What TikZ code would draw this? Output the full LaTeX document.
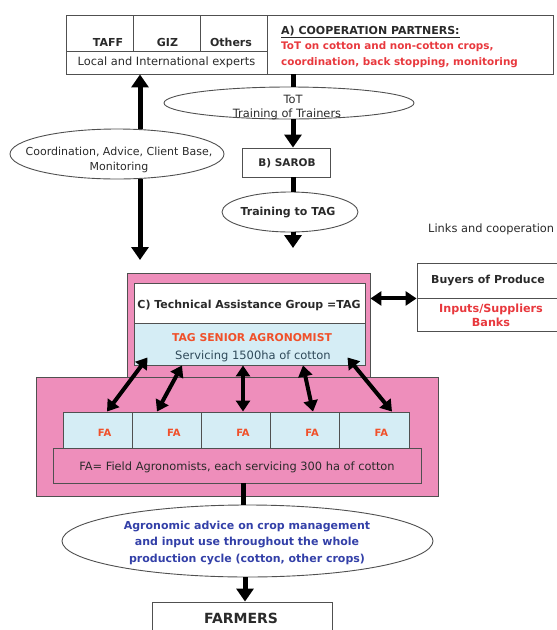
\documentclass[tikz,border=0pt]{standalone}
\usepackage{fontspec}
\setmainfont{DejaVu Sans}
\usetikzlibrary{arrows.meta,shapes.geometric,calc}
\definecolor{pinkf}{HTML}{EE8EBB}
\definecolor{bluef}{HTML}{D5EDF5}
\definecolor{redt}{HTML}{E8383D}
\definecolor{oranget}{HTML}{F0502A}
\definecolor{bluet}{HTML}{3340A8}
\definecolor{slatet}{HTML}{2F4A5A}
\definecolor{edge}{HTML}{505050}
\definecolor{txt}{HTML}{2A2A2A}
\begin{document}
\begin{tikzpicture}[x=1pt,y=-1pt,
  box/.style={draw=edge, line width=0.9pt, inner sep=0pt},
  ell/.style={ellipse, draw=edge, line width=0.9pt, inner sep=0pt},
  arr/.style={line width=5pt, -{Triangle[length=13pt,width=17pt]}},
  bar/.style={line width=5pt},
  dbl/.style={line width=4pt, {Triangle[length=11pt,width=14pt]}-{Triangle[length=11pt,width=14pt]}},
  lbl/.style={inner sep=0pt, text=txt, font=\fontsize{11.4}{13}\selectfont},
  blbl/.style={inner sep=0pt, text=txt, font=\fontsize{11}{13}\selectfont\bfseries},
]
\useasboundingbox (0,0) rectangle (557,630);

% ---------- top box ----------
\node[box, minimum width=67pt, minimum height=36pt] (taff) at (99.5,33) {};
\node[box, minimum width=67pt, minimum height=36pt] (giz) at (166.5,33) {};
\node[box, minimum width=67pt, minimum height=36pt] (others) at (233.5,33) {};
\node[box, minimum width=201pt, minimum height=23pt] (experts) at (166.5,62.5) {};
\node[box, minimum width=286pt, minimum height=59pt] (coop) at (410,44.5) {};
\node[blbl] at (108,42) {TAFF};
\node[blbl] at (167.5,42) {GIZ};
\node[blbl] at (231,42) {Others};
\node[lbl] at (166.5,62) {Local and International experts};
\node[blbl, anchor=west] at (281,32) {\underline{A) COOPERATION PARTNERS:}};
\node[blbl, anchor=west, text=redt, font=\fontsize{10.4}{12}\selectfont\bfseries] at (281,47) {ToT on cotton and non-cotton crops,};
\node[blbl, anchor=west, text=redt, font=\fontsize{10.4}{12}\selectfont\bfseries] at (281,63) {coordination, back stopping, monitoring};

% ---------- left ellipse ----------
\node[ell, minimum width=214pt, minimum height=50pt] (coord) at (117,154) {};
\node[lbl, align=center, font=\fontsize{11}{13}\selectfont] at (119,160) {Coordination, Advice, Client Base,\\[2pt]Monitoring};
\coordinate (cdown) at (140,260);
\draw[arr] (140,0 |- coord.north) -- (140,0 |- experts.south);
\draw[arr] (140,0 |- coord.south) -- (cdown);

% ---------- middle column ----------
\node[ell, minimum width=250pt, minimum height=32pt] (tot) at (289,103) {};
\node[lbl] at (293,99) {ToT};
\node[lbl] at (287,114) {Training of Trainers};
\node[box, minimum width=88pt, minimum height=29pt] (sarob) at (286,162.5) {};
\node[blbl, font=\fontsize{10.5}{12}\selectfont\bfseries] at (287,163) {B) SAROB};
\node[ell, minimum width=136pt, minimum height=40pt] (train) at (290,212) {};
\node[blbl] at (288,213) {Training to TAG};
\coordinate (tdown) at (293,248);
\draw[bar] (293,0 |- coop.south) -- (293,0 |- tot.north);
\draw[arr] (293,0 |- tot.south) -- (293,0 |- sarob.north);
\draw[bar] (293,0 |- sarob.south) -- (293,0 |- train.north);
\draw[arr] (293,0 |- train.south) -- (tdown);

% ---------- links ----------
\node[lbl, anchor=west] at (428,229) {Links and cooperation};
\node[box, minimum width=140pt, minimum height=35pt] (buyers) at (487,280.5) {};
\node[box, minimum width=140pt, minimum height=33pt] (inputs) at (487,314.5) {};
\node[blbl] at (488,281) {Buyers of Produce};
\node[blbl, text=redt, align=center, font=\fontsize{11.2}{14}\selectfont\bfseries] at (491,315) {Inputs/Suppliers\\Banks};

% ---------- TAG ----------
\node[box, fill=pinkf, minimum width=243pt, minimum height=104pt] (tagout) at (248.5,325) {};
\node[box, fill=white, minimum width=231pt, minimum height=40pt] (tagw) at (249.5,303) {};
\node[box, fill=bluef, minimum width=231pt, minimum height=42pt] (tagb) at (249.5,344) {};
\node[blbl, font=\fontsize{11}{13}\selectfont\bfseries] at (249,305) {C) Technical Assistance Group =TAG};
\node[blbl, text=oranget, font=\fontsize{10.8}{13}\selectfont\bfseries] at (252,338) {TAG SENIOR AGRONOMIST};
\node[lbl, text=slatet, font=\fontsize{11.5}{13}\selectfont] at (253,356) {Servicing 1500ha of cotton};
\draw[dbl] (tagout.east |- buyers.south west) -- (buyers.south west);

% ---------- FA ----------
\node[box, fill=pinkf, minimum width=402pt, minimum height=119pt] (fapink) at (237,436.5) {};
\foreach \i/\cx in {1/97.6,2/166.8,3/236,4/305.2,5/374.4}{
  \node[box, fill=bluef, minimum width=69.2pt, minimum height=36pt] (fa\i) at (\cx,430) {};
  \node[blbl, text=oranget, font=\fontsize{10}{11}\selectfont\bfseries] at (\cx+7,433) {FA};
}
\node[box, fill=pinkf, minimum width=368pt, minimum height=35pt] (fadesc) at (237,465.5) {};
\node[lbl, font=\fontsize{11.4}{13}\selectfont] at (237,467) {FA= Field Agronomists, each servicing 300 ha of cotton};

\draw[dbl] ($(tagb.south west)+(14,-8)$) -- (107,0 |- fa1.north);
\draw[dbl] (182,0 |- tagb.south) -- (157,0 |- fa2.north);
\draw[dbl] (243,0 |- tagb.south) -- (243,0 |- fa3.north);
\draw[dbl] (303,0 |- tagb.south) -- (313,0 |- fa4.north);
\draw[dbl] ($(tagb.south east)+(-18,-8)$) -- (392,0 |- fa5.north);

% ---------- bottom ----------
\node[ell, minimum width=371pt, minimum height=72pt] (agro) at (247.5,541) {};
\node[blbl, text=bluet, align=center, font=\fontsize{11}{16.5}\selectfont\bfseries] at (247,543) {Agronomic advice on crop management\\and input use throughout the whole\\production cycle (cotton, other crops)};
\draw[bar] (243,0 |- fadesc.south) -- (243,0 |- agro.north);
\node[box, minimum width=180pt, minimum height=38pt] (farmers) at (242,621) {};
\node[blbl, font=\fontsize{14}{16}\selectfont\bfseries] at (241,618) {FARMERS};
\draw[arr] (245,0 |- agro.south) -- (245,0 |- farmers.north);
\end{tikzpicture}
\end{document}
